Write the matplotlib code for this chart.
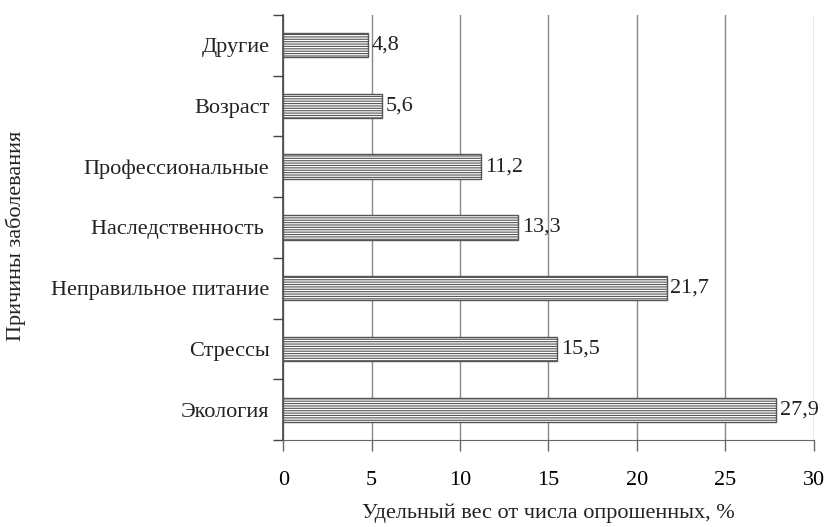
import matplotlib.pyplot as plt
import numpy as np

plt.rcParams['font.family'] = ['Liberation Serif', 'DejaVu Serif']
plt.rcParams['hatch.color'] = '#555555'
plt.rcParams['hatch.linewidth'] = 0.8

# data, bottom to top
causes = ['Экология', 'Стрессы', 'Неправильное питание', 'Наследственность ',
          'Профессиональные', 'Возраст', 'Другие']
shares = [27.9, 15.5, 21.7, 13.3, 11.2, 5.6, 4.8]
xticks = [0, 5, 10, 15, 20, 25, 30]

fig = plt.figure(figsize=(8.26, 5.27), dpi=100)
ax = fig.add_axes([0.343, 0.165, 0.642, 0.807])

y = np.arange(len(causes))
bars = ax.barh(y, shares, height=0.4, color='white', edgecolor='#555555',
               linewidth=1.0, hatch='-------', zorder=3)

for yi, v in zip(y, shares):
    ax.text(v + 0.2, yi, f'{v:.1f}'.replace('.', ','), va='center', ha='left',
            fontsize=16, color='#222222', zorder=4)

ax.set_xlim(0, 30)
ax.set_ylim(-0.5, len(causes) - 0.5)
ax.set_xticks(xticks)
ax.set_xticklabels([str(t) for t in xticks], fontsize=16)
ax.xaxis.grid(True, color='#888888', linewidth=1.0, zorder=0)

# category labels centred, tick marks at boundaries
ax.set_yticks(y)
ax.set_yticklabels(causes, fontsize=16, color='#222222')
ax.set_yticks(np.arange(-0.5, len(causes), 1.0), minor=True)
ax.tick_params(axis='y', which='major', length=0, pad=10)
ax.tick_params(axis='y', which='minor', length=7, width=1.0, color='#444444')
ax.tick_params(axis='x', which='major', length=8, width=1.0, color='#666666', pad=14)

for s in ['top', 'right']:
    ax.spines[s].set_visible(False)
ax.spines['left'].set_color('#444444')
ax.spines['bottom'].set_color('#666666')
ax.spines['left'].set_linewidth(1.2)

ax.set_xlabel('Удельный вес от числа опрошенных, %', fontsize=16, color='#222222')
ax.xaxis.set_label_coords(0.5, -0.15)
ax.set_ylabel('Причины заболевания', fontsize=16, color='#222222')
ax.yaxis.set_label_coords(-0.485, 0.48)

fig.savefig('out.png', dpi=100)
